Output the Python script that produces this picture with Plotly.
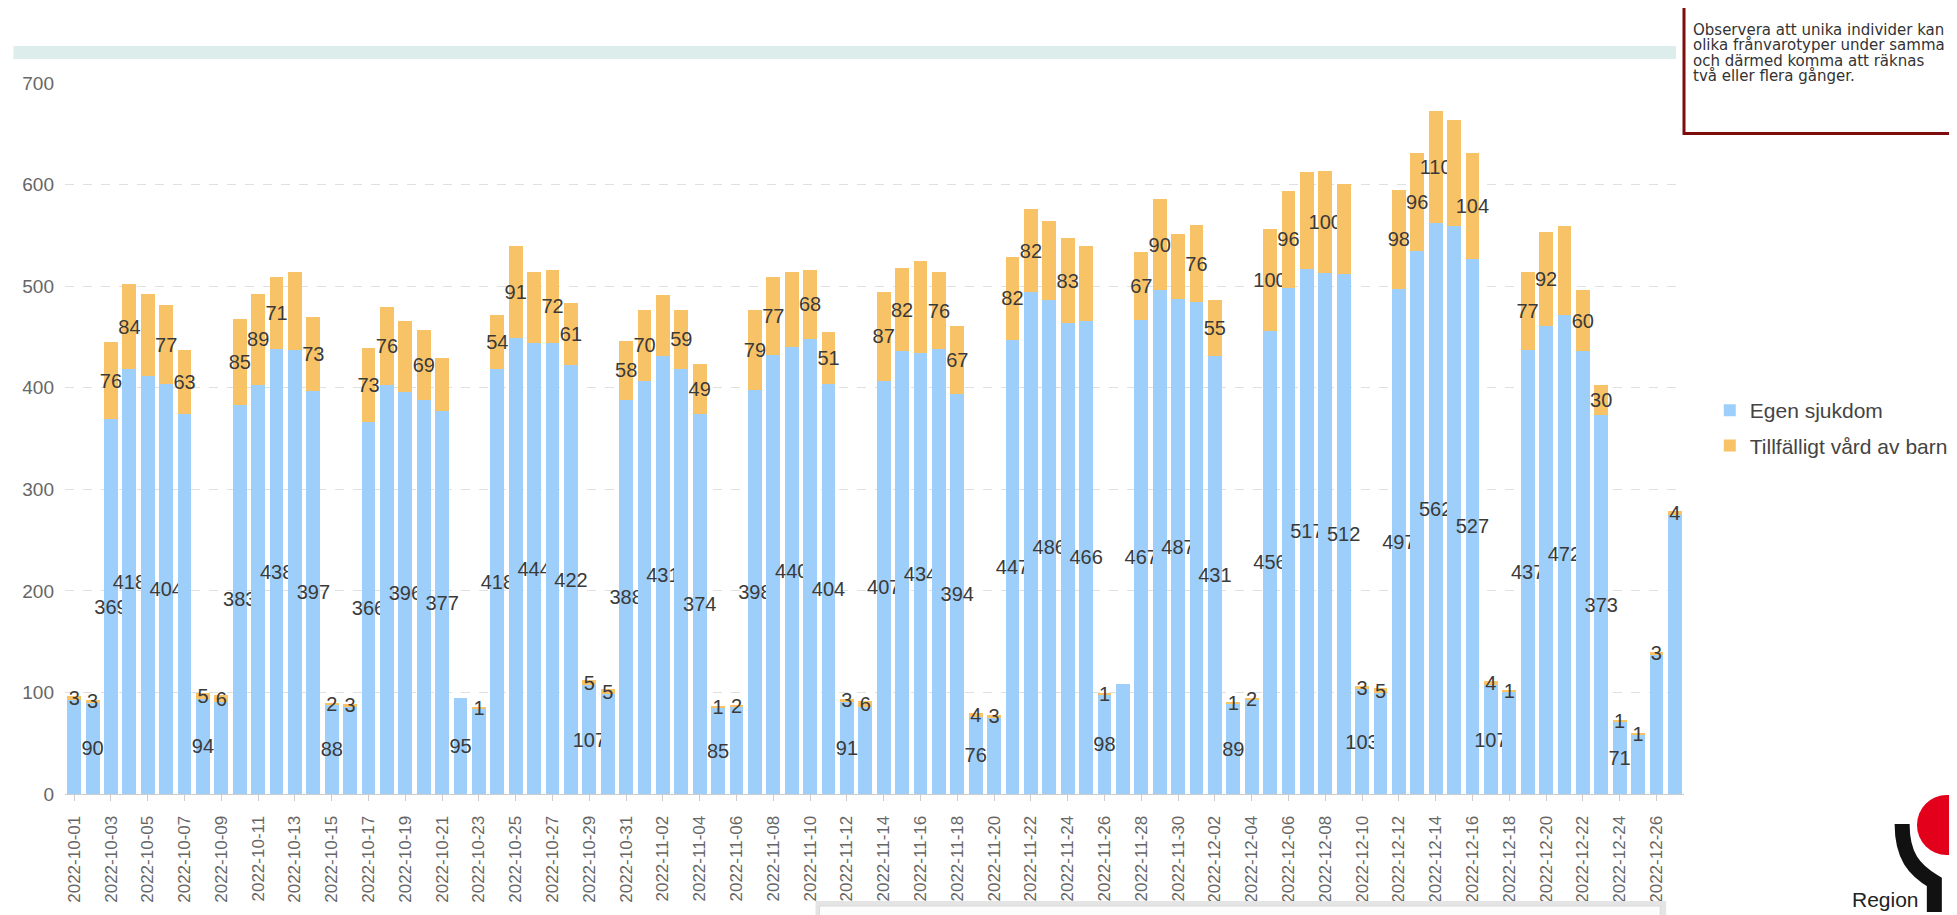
import plotly.graph_objects as go
import pandas as pd

# ---------------- data ----------------
dates = [d.strftime('%Y-%m-%d') for d in pd.date_range('2022-10-01', '2022-12-27', freq='D')]

egen = [93, 90, 369, 418, 412, 404, 374, 94, 91, 383,
        403, 438, 437, 397, 88, 86, 366, 403, 396, 388,
        377, 95, 84, 418, 449, 444, 444, 422, 107, 98,
        388, 407, 431, 418, 374, 85, 86, 398, 432, 440,
        448, 404, 91, 86, 407, 436, 434, 438, 394, 76,
        75, 447, 494, 486, 464, 466, 98, 108, 467, 496,
        487, 484, 431, 89, 93, 456, 498, 517, 513, 512,
        103, 99, 497, 535, 562, 559, 527, 107, 101, 437,
        461, 472, 436, 373, 71, 59, 137, 275]

tillf = [3, 3, 76, 84, 80, 77, 63, 5, 6, 85,
         89, 71, 77, 73, 2, 3, 73, 76, 70, 69,
         52, None, 1, 54, 91, 70, 72, 61, 5, 5,
         58, 70, 60, 59, 49, 1, 2, 79, 77, 74,
         68, 51, 3, 6, 87, 82, 91, 76, 67, 4,
         3, 82, 82, 78, 83, 74, 1, None, 67, 90,
         64, 76, 55, 1, 2, 100, 96, 95, 100, 89,
         3, 5, 98, 96, 110, 105, 104, 4, 1, 77,
         92, 87, 60, 30, 1, 1, 3, 4]

# day numbers (1-based) whose value label is visible in the reference
egen_label_days = [2, 3, 4, 6, 8, 10, 12, 14, 15, 17, 19, 21, 22, 24, 26, 28, 29, 31,
                   33, 35, 36, 38, 40, 42, 43, 45, 47, 49, 50, 52, 54, 56, 57, 59, 61,
                   63, 64, 66, 68, 70, 71, 73, 75, 77, 78, 80, 82, 84, 85]
tillf_hidden_days = [5, 13, 19, 21, 22, 26, 33, 40, 47, 54, 56, 58, 61, 68, 70, 76, 82]

tick_dates = dates[::2]
y_ticks = [0, 100, 200, 300, 400, 500, 600, 700]

series_names = ['Egen sjukdom', 'Tillfälligt vård av barn']
note_lines = ['Observera att unika individer kan ha',
              'olika frånvarotyper under samma dag',
              'och därmed komma att räknas',
              'två eller flera gånger.']

# ---------------- geometry helpers ----------------
W, H = 1957, 915
L, R, T, B = 57, 1690, 75, 786


def px(x):
    return (x - L) / (R - L)


def py(y):
    return (B - y) / (B - T)


egen_text = [str(v) if (i + 1) in egen_label_days else '' for i, v in enumerate(egen)]
tillf_text = ['' if (v is None or (i + 1) in tillf_hidden_days) else str(v)
              for i, v in enumerate(tillf)]

FONT = 'Liberation Sans, Arial, sans-serif'
NOTE_FONT = 'DejaVu Sans, sans-serif'
BLUE = '#9ecffa'
ORANGE = '#f8c266'

fig = go.Figure()
fig.add_bar(x=dates, y=egen, name=series_names[0], marker=dict(color=BLUE, line_width=0),
            text=egen_text, textposition='inside', insidetextanchor='middle', textangle=0,
            constraintext='none', insidetextfont=dict(size=20, color='#3a3a3a', family=FONT),
            legendgroup='a', hoverinfo='skip')
fig.add_bar(x=dates, y=tillf, name=series_names[1], marker=dict(color=ORANGE, line_width=0),
            text=tillf_text, textposition='inside', insidetextanchor='middle', textangle=0,
            constraintext='none', insidetextfont=dict(size=20, color='#3a3a3a', family=FONT),
            legendgroup='b', hoverinfo='skip')

shapes = [
    # teal strip at top
    dict(type='rect', xref='paper', yref='paper', x0=px(5), x1=px(1682), y0=py(51), y1=py(38),
         fillcolor='#ddedeb', line_width=0, layer='below'),
    # note box
    dict(type='rect', xref='paper', yref='paper', x0=px(1690), x1=px(2000), y0=py(125.5), y1=py(-20),
         fillcolor='white', line=dict(color='#7d0d0d', width=3)),
    # bottom panel shadow + panel
    dict(type='rect', xref='paper', yref='paper', x0=px(814), x1=px(1672), y0=py(930), y1=py(893),
         fillcolor='#e4e4e4', line_width=0),
    dict(type='rect', xref='paper', yref='paper', x0=px(818), x1=px(1666), y0=py(930), y1=py(898),
         fillcolor='#fcfcfc', line=dict(color='#d9d9d9', width=1)),
    dict(type='rect', xref='paper', yref='paper', x0=px(1056), x1=px(1166), y0=py(930), y1=py(908),
         fillcolor='white', line=dict(color='#c8c8c8', width=1)),
    # logo circle
    dict(type='circle', xref='paper', yref='paper', x0=px(1925), x1=px(1985), y0=py(847), y1=py(787),
         fillcolor='#e2001a', line_width=0),
    # logo black arm
    dict(type='path', xref='paper', yref='paper',
         path='M %f %f C %f %f, %f %f, %f %f L %f %f' % (
             px(1910), py(816), px(1910), py(848), px(1922), py(862), px(1942.5), py(874),
             px(1942.5), py(904)),
         line=dict(color='#111111', width=15)),
]

annotations = []
for k, line in enumerate(note_lines):
    annotations.append(dict(text=line, xref='paper', yref='paper', x=px(1697), y=py(21.5 + k * 15.5),
                            xanchor='left', yanchor='middle', showarrow=False,
                            font=dict(size=15, color='#333333', family=NOTE_FONT)))
annotations.append(dict(text='Region', xref='paper', yref='paper', x=px(1857), y=py(905),
                        xanchor='left', yanchor='bottom', showarrow=False,
                        font=dict(size=21, color='#222222', family=FONT)))
annotations.append(dict(text='<b>Västmanland</b>', xref='paper', yref='paper', x=px(1857), y=py(903),
                        xanchor='left', yanchor='top', showarrow=False,
                        font=dict(size=21, color='#111111', family=FONT)))

fig.update_layout(
    width=W, height=H,
    margin=dict(l=L, r=W - R, t=T, b=H - B, pad=0),
    barmode='stack', bargap=0.25,
    uniformtext=dict(mode='show', minsize=20),
    plot_bgcolor='white', paper_bgcolor='white',
    font=dict(family=FONT, color='#444'),
    showlegend=True,
    legend=dict(x=px(1716), y=py(420), xanchor='left', yanchor='middle',
                font=dict(size=21, color='#444444', family=FONT), tracegroupgap=5,
                bgcolor='rgba(0,0,0,0)'),
    shapes=shapes, annotations=annotations,
    xaxis=dict(type='category', range=[-0.5, len(dates) - 0.5], tickmode='array',
               tickvals=tick_dates, ticktext=tick_dates, tickangle=-90,
               ticks='outside', ticklen=6, tickcolor='#cccccc', showline=True,
               linecolor='#cccccc', linewidth=1, showgrid=False,
               tickfont=dict(size=17, color='#666666', family=FONT), ticklabelstandoff=8),
    yaxis=dict(range=[0, 700], tickmode='array', tickvals=y_ticks, showgrid=True,
               gridcolor='#e0e0e0', griddash='dash', gridwidth=1, zeroline=False,
               showline=False, ticks='', tickfont=dict(size=19, color='#666666', family=FONT),
               ticklabelstandoff=10),
)

fig.write_html('out.html')
